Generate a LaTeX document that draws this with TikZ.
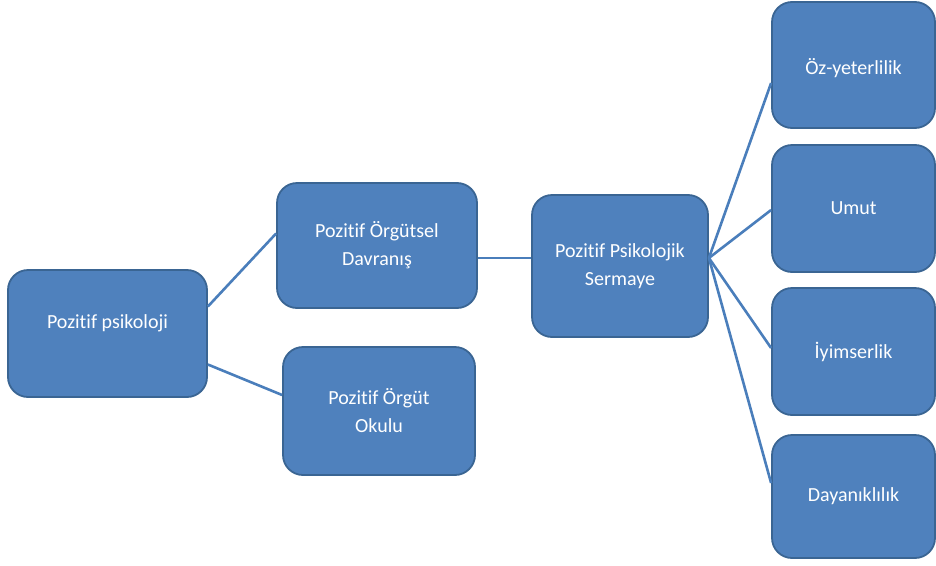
\documentclass[tikz,border=0pt]{standalone}
\usepackage{fontspec}
\setmainfont[Ligatures=NoCommon]{Carlito}
\definecolor{boxfill}{HTML}{4F81BD}
\definecolor{boxedge}{HTML}{3A6593}
\definecolor{linkblue}{HTML}{4A7EBB}
\begin{document}
\begin{tikzpicture}[x=1pt,y=-1pt,
  box/.style={draw=boxedge, line width=1.8pt, fill=boxfill, rounded corners=20pt,
    text=white, align=center, font=\fontsize{20}{28}\selectfont, inner sep=0pt},
  link/.style={draw=linkblue, line width=2.6pt}]
  \useasboundingbox (0,0) rectangle (936,565);

  % left part of the tree
  \node[box, minimum width=199pt, minimum height=127pt, text depth=24pt]
    (psi) at (107.5,333.5) {Pozitif psikoloji};
  \node[box, minimum width=200pt, minimum height=125pt]
    (pod) at (377,245.5) {Pozitif Örgütsel\\Davranış};
  \node[box, minimum width=192pt, minimum height=128pt]
    (poo) at (379,411) {Pozitif Örgüt\\Okulu};
  \node[box, minimum width=176pt, minimum height=142pt]
    (pps) at (620,266) {Pozitif Psikolojik\\Sermaye};

  % right column: the four components
  \node[box, minimum width=163pt, minimum height=126pt, text height=22pt]
    (oz) at (853.5,65) {Öz-yeterlilik};
  \node[box, minimum width=163pt, minimum height=127pt]
    (umut) at (853.5,208.5) {Umut};
  \node[box, minimum width=163pt, minimum height=127pt]
    (iyi) at (853.5,351.5) {İyimserlik};
  \node[box, minimum width=163pt, minimum height=123pt]
    (day) at (853.5,496.5) {Dayanıklılık};

  % connectors
  \draw[link] ([yshift=27pt]psi.east) -- ([yshift=12pt]pod.west);
  \draw[link] ([yshift=-31pt]psi.east) -- ([yshift=16pt]poo.west);
  \draw[link] ([yshift=-12.5pt]pod.east) -- ([yshift=8pt]pps.west);
  \coordinate (hub) at ([yshift=8pt]pps.east);
  \draw[link] (hub) -- ([yshift=-18pt]oz.west);
  \draw[link] (hub) -- ([yshift=-1.5pt]umut.west);
  \draw[link] (hub) -- ([yshift=3.5pt]iyi.west);
  \draw[link] (hub) -- ([yshift=13.5pt]day.west);
\end{tikzpicture}
\end{document}
